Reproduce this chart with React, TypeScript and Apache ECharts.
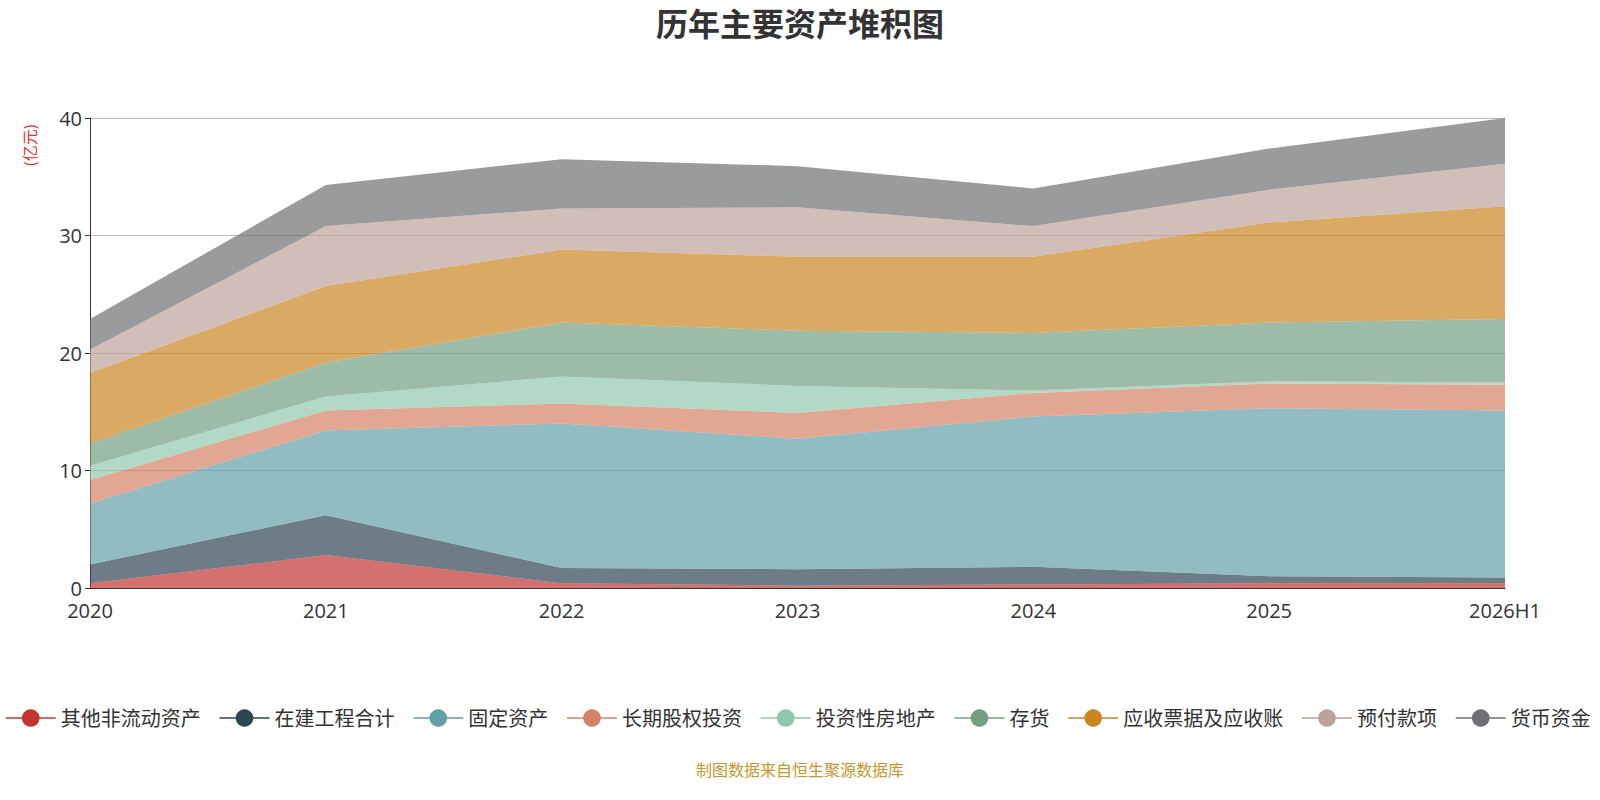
import { useEffect, useRef } from "react"
import * as echarts from "echarts"

const years = ["2020", "2021", "2022", "2023", "2024", "2025", "2026H1"]
const names = [
  "其他非流动资产",
  "在建工程合计",
  "固定资产",
  "长期股权投资",
  "投资性房地产",
  "存货",
  "应收票据及应收账款",
  "预付款项",
  "货币资金",
]
const colors = ["#c23531", "#2f4554", "#61a0a8", "#d48265", "#91c7ae", "#749f83", "#ca8622", "#bda29a", "#6e7074"]
const otherNonCurrent = [0.4, 2.8, 0.4, 0.2, 0.3, 0.4, 0.4]
const construction = [1.6, 3.4, 1.3, 1.4, 1.5, 0.6, 0.5]
const fixedAssets = [5.2, 7.2, 12.3, 11.1, 12.8, 14.3, 14.2]
const equityInvest = [2.0, 1.7, 1.7, 2.2, 2.0, 2.1, 2.2]
const investProperty = [1.2, 1.2, 2.3, 2.3, 0.2, 0.2, 0.2]
const inventory = [1.9, 2.9, 4.6, 4.7, 4.9, 5.0, 5.4]
const receivables = [6.0, 6.5, 6.2, 6.3, 6.5, 8.5, 9.6]
const prepayments = [2.0, 5.1, 3.5, 4.2, 2.6, 2.8, 3.6]
const cash = [2.6, 3.5, 4.2, 3.5, 3.2, 3.5, 3.9]
const values = [otherNonCurrent, construction, fixedAssets, equityInvest, investProperty, inventory, receivables, prepayments, cash]

const FONT = "'Open Sans', 'Noto Sans CJK SC', sans-serif"

export default function App() {
  const ref = useRef<HTMLDivElement>(null)

  useEffect(() => {
    document.body.style.margin = "0"
    if (!ref.current) return
    const chart = echarts.init(ref.current, undefined, { renderer: "svg" })
    chart.setOption({
      animation: false,
      color: colors,
      textStyle: { fontFamily: FONT },
      title: {
        text: "历年主要资产堆积图",
        left: "center",
        top: 2,
        textStyle: { fontSize: 32, fontWeight: "bold", color: "#333", fontFamily: FONT },
      },
      graphic: [
        {
          type: "text",
          x: 22,
          y: 166,
          rotation: Math.PI / 2,
          style: { text: "(亿元)", fill: "#e8312f", font: `16px ${FONT}` },
        },
        {
          type: "text",
          left: "center",
          top: 762,
          style: { text: "制图数据来自恒生聚源数据库", fill: "#c8962a", font: `16px ${FONT}` },
        },
      ],
      legend: {
        type: "scroll",
        bottom: 66,
        left: 0,
        right: 4,
        itemWidth: 50,
        itemHeight: 22,
        itemGap: 18,
        lineStyle: { width: 1.5 },
        textStyle: { fontSize: 20, color: "#333", width: 164, overflow: "truncate", ellipsis: "" },
        pageTextStyle: { fontSize: 20, color: "#333" },
        pageIconColor: "#2f4554",
        pageIconInactiveColor: "#aaa",
        pageIconSize: 22,
        data: names,
      },
      grid: { left: 90, right: 95, top: 118, bottom: 212, outerBoundsMode: "none" },
      xAxis: {
        type: "category",
        boundaryGap: false,
        data: years,
        axisLine: { lineStyle: { color: "#333" } },
        axisTick: { show: false },
        axisLabel: { fontSize: 20, color: "#333", margin: 12 },
      },
      yAxis: {
        type: "value",
        min: 0,
        max: 40,
        interval: 10,
        axisLine: { show: true, lineStyle: { color: "#333" } },
        axisTick: { show: true },
        splitLine: { lineStyle: { color: "#bbb" } },
        axisLabel: { fontSize: 20, color: "#333" },
      },
      series: names.map((n, i) => ({
        name: n,
        type: "line",
        stack: "total",
        data: values[i],
        symbol: "circle",
        showSymbol: false,
        lineStyle: { width: 0 },
        areaStyle: { opacity: 0.7 },
        emphasis: { disabled: true },
      })),
    })
    return () => chart.dispose()
  }, [])

  return <div ref={ref} style={{ width: 1600, height: 800 }} />
}
